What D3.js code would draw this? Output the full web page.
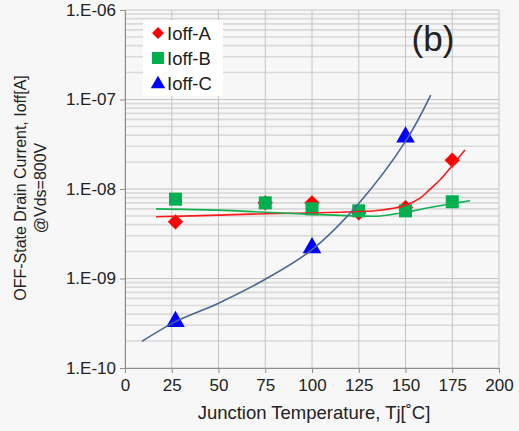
<!DOCTYPE html>
<html>
<head>
<meta charset="utf-8">
<script src="https://cdn.jsdelivr.net/npm/d3@7"></script>
<style>
  body { margin: 0; background: #f7f7f7; }
  text { font-family: Arial, "Liberation Sans", sans-serif; fill: #222; }
</style>
</head>
<body>
<div id="chart"></div>
<script>
// measured points, Tj [C] vs Ioff [A]
var temps = [27, 75, 100, 125, 150, 175];
var ioffA = [4.3e-9, 7.0e-9, 7.0e-9, 5.4e-9, 6.2e-9, 2.1e-8];
var ioffB = [7.7e-9, 7.0e-9, 6.0e-9, 5.7e-9, 5.7e-9, 7.2e-9];
var tempsC = [27, 100, 150];
var ioffC = [3.3e-10, 2.2e-9, 3.8e-8];

// trendlines
var trendAx = [16.6, 50, 75, 100, 125, 136.4, 150, 157.8, 163, 168.4, 173.8, 177.4, 181.8];
var trendAy = [4.9e-9, 5.1e-9, 5.3e-9, 5.4e-9, 5.6e-9, 5.8e-9, 6.6e-9, 7.9e-9, 9.9e-9, 1.26e-8, 1.7e-8, 2.11e-8, 2.73e-8];
var trendBx = [16.6, 50, 75, 100, 125, 136.4, 150, 163, 175.6, 184.5];
var trendBy = [6.0e-9, 5.8e-9, 5.5e-9, 5.2e-9, 5.0e-9, 5.0e-9, 5.5e-9, 6.2e-9, 6.9e-9, 7.4e-9];
var trendCx = [9, 27, 50, 75, 100, 125, 150, 163.5];
var trendCy = [1.98e-10, 3.3e-10, 5.3e-10, 9.8e-10, 2.1e-9, 6.9e-9, 3.4e-8, 1.12e-7];

var xTicks = [0, 25, 50, 75, 100, 125, 150, 175, 200];
var yTicks = [1e-10, 1e-9, 1e-8, 1e-7, 1e-6];
var legendNames = ["Ioff-A", "Ioff-B", "Ioff-C"];

var W = 519, H = 431;
var svg = d3.select("#chart").append("svg").attr("width", W).attr("height", H);
svg.append("rect").attr("width", W).attr("height", H).attr("fill", "#f7f7f7");

var x = d3.scaleLinear().domain([0, 200]).range([125, 499]);
var y = d3.scaleLog().domain([1e-10, 1e-6]).range([368, 10]);

// minor horizontal grid
var minor = [];
yTicks.slice(0, -1).forEach(function(d){
  for (var k = 2; k <= 9; k++) minor.push(d * k);
});
svg.append("g").selectAll("line").data(minor).enter().append("line")
  .attr("x1", x(0)).attr("x2", x(200))
  .attr("y1", function(d){ return y(d); }).attr("y2", function(d){ return y(d); })
  .style("stroke", "#dadada").style("stroke-width", 1.6);

// major grid
svg.append("g").selectAll("line").data(yTicks).enter().append("line")
  .attr("x1", x(0)).attr("x2", x(200))
  .attr("y1", function(d){ return y(d); }).attr("y2", function(d){ return y(d); })
  .style("stroke", "#c4c4c4").style("stroke-width", 1);
svg.append("g").selectAll("line").data(xTicks).enter().append("line")
  .attr("x1", function(d){ return x(d); }).attr("x2", function(d){ return x(d); })
  .attr("y1", y(1e-10)).attr("y2", y(1e-6))
  .style("stroke", "#c4c4c4").style("stroke-width", 1);

// axes
var fmt = function(d){ return "1.E-" + d3.format("02d")(-Math.round(Math.log10(d))); };
var yAxis = svg.append("g").attr("transform", "translate(" + x(0) + ",0)")
  .call(d3.axisLeft(y).tickValues(yTicks).tickFormat(fmt).tickSize(5).tickPadding(4));
var xAxis = svg.append("g").attr("transform", "translate(0," + y(1e-10) + ")")
  .call(d3.axisBottom(x).tickValues(xTicks).tickSize(5).tickPadding(6));
[yAxis, xAxis].forEach(function(a){
  a.select(".domain").style("stroke", "#8c8c8c");
  a.selectAll(".tick line").style("stroke", "#8c8c8c");
  a.selectAll("text").style("font-size", "17px").style("font-family", "Arial, 'Liberation Sans', sans-serif").attr("fill", "#222");
});

// markers
var g = svg.append("g");
var diamond = d3.symbol().type(d3.symbolDiamond2).size(150);
g.selectAll(".ptA").data(temps).enter().append("path")
  .attr("class", "ptA")
  .attr("d", diamond)
  .attr("transform", function(d, i){ return "translate(" + x(d) + "," + y(ioffA[i]) + ")"; })
  .attr("fill", "#ff0000");
g.selectAll(".ptB").data(temps).enter().append("rect")
  .attr("class", "ptB")
  .attr("x", function(d){ return x(d) - 6.5; })
  .attr("y", function(d, i){ return y(ioffB[i]) - 6.5; })
  .attr("width", 13).attr("height", 13)
  .attr("fill", "#00b050");
var tri = d3.symbol().type(d3.symbolTriangle).size(150);
g.selectAll(".ptC").data(tempsC).enter().append("path")
  .attr("class", "ptC")
  .attr("d", tri)
  .attr("transform", function(d, i){ return "translate(" + x(d) + "," + y(ioffC[i]) + ")"; })
  .attr("fill", "#0000ff");

// trendlines
var line = d3.line().curve(d3.curveCatmullRom)
  .x(function(d){ return x(d[0]); })
  .y(function(d){ return y(d[1]); });
function trend(xs, ys, color){
  svg.append("path")
    .attr("d", line(xs.map(function(d, i){ return [d, ys[i]]; })))
    .style("fill", "none").style("stroke", color).style("stroke-width", 1.6);
}
trend(trendAx, trendAy, "#ff1a1a");
trend(trendBx, trendBy, "#10b050");
trend(trendCx, trendCy, "#4a6790");

// legend
var leg = svg.append("g");
leg.append("rect").attr("x", 143).attr("y", 20).attr("width", 80).attr("height", 76).attr("fill", "#fff");
var legY = [33, 58, 83];
leg.append("path").attr("d", d3.symbol().type(d3.symbolDiamond2).size(90))
  .attr("transform", "translate(158," + legY[0] + ")").attr("fill", "#ff0000");
leg.append("rect").attr("x", 152).attr("y", legY[1] - 6).attr("width", 12).attr("height", 12).attr("fill", "#00b050");
leg.append("path").attr("d", d3.symbol().type(d3.symbolTriangle).size(90))
  .attr("transform", "translate(158," + (legY[2] + 1) + ")").attr("fill", "#0000ff");
leg.selectAll("text").data(legendNames).enter().append("text")
  .attr("x", 167).attr("y", function(d, i){ return legY[i]; })
  .attr("dy", "0.36em").style("font-size", "18.5px")
  .text(function(d){ return d; });

// panel tag
svg.append("text").attr("x", 433).attr("y", 51).attr("text-anchor", "middle")
  .style("font-size", "35px").text("(b)");

// titles
svg.append("text").attr("transform", "translate(26,188) rotate(-90)")
  .attr("text-anchor", "middle").style("font-size", "16px")
  .text("OFF-State Drain Current,  Ioff[A]");
svg.append("text").attr("transform", "translate(46,188) rotate(-90)")
  .attr("text-anchor", "middle").style("font-size", "16px")
  .text("@Vds=800V");
svg.append("text").attr("x", 314).attr("y", 419).attr("text-anchor", "middle")
  .style("font-size", "18.5px").text("Junction Temperature, Tj[\u02DAC]");
</script>
</body>
</html>
